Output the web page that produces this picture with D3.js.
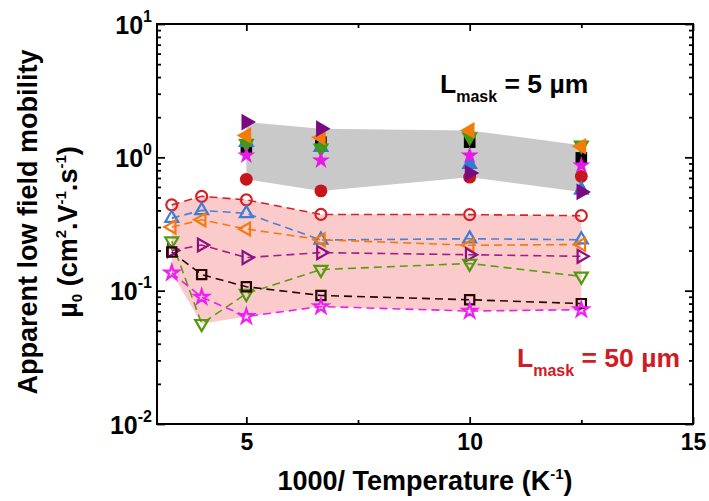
<!DOCTYPE html>
<html>
<head>
<meta charset="utf-8">
<script src="https://cdn.jsdelivr.net/npm/d3@7"></script>
<style>
  body { margin: 0; background: #fff; }
  text { font-family: "Liberation Sans", Arial, sans-serif; font-weight: bold; }
</style>
</head>
<body>
<svg id="chart" width="709" height="501"></svg>
<script>
// 1000/T positions (K^-1)
const invTemp50 = [3.33, 4.0, 5.0, 6.67, 10.0, 12.5];
const invTemp5 = [5.0, 6.67, 10.0, 12.5];

// Apparent low-field mobility, L_mask = 50 µm (cm²/V·s)
const red50     = [0.44, 0.51, 0.48, 0.373, 0.372, 0.365];
const blue50    = [0.35, 0.40, 0.38, 0.240, 0.245, 0.241];
const orange50  = [0.30, 0.34, 0.29, 0.241, 0.219, 0.222];
const green50   = [0.235, 0.0565, 0.095, 0.144, 0.160, 0.128];
const purple50  = [0.20, 0.22, 0.177, 0.193, 0.186, 0.181];
const black50   = [0.195, 0.132, 0.107, 0.092, 0.0855, 0.080];
const magenta50 = [0.136, 0.0895, 0.064, 0.076, 0.0703, 0.072];

// Apparent low-field mobility, L_mask = 5 µm (cm²/V·s)
const black5   = [1.19, 1.30, 1.30, 0.99];
const red5     = [0.684, 0.56, 0.71, 0.72];
const blue5    = [1.30, 1.19, 0.886, 0.57];
const green5   = [1.27, 1.17, 1.42, 1.23];
const orange5  = [1.46, 1.41, 1.59, 1.21];
const purple5  = [1.84, 1.64, 0.762, 0.55];
const magenta5 = [1.035, 0.95, 1.035, 0.87];

// Axis ticks
const xMajorTicks = [5, 10, 15];
const xMinorTicks = [7.5, 12.5];
const yMajorTicks = [0.01, 0.1, 1, 10];

// ---- styling ----
const W = 709, H = 501;
const margin = { left: 157, top: 24, right: 16, bottom: 77 };
const iw = W - margin.left - margin.right;
const ih = H - margin.top - margin.bottom;
const FONT = "Liberation Sans, Arial, sans-serif";

const svg = d3.select("#chart");
const g = svg.append("g").attr("transform", `translate(${margin.left},${margin.top})`);

const x = d3.scaleLinear().domain([3, 15]).range([0, iw]);
const y = d3.scaleLog().domain([0.01, 10]).range([ih, 0]);

// triangle symbol pointing in a given direction (angle of first vertex)
function tri(angle) {
  return {
    draw(ctx, size) {
      const r = Math.sqrt(size / (3 * Math.sqrt(3) / 4));
      for (let i = 0; i < 3; i++) {
        const a = angle + i * 2 * Math.PI / 3;
        const px = r * Math.cos(a), py = r * Math.sin(a);
        if (i === 0) ctx.moveTo(px, py); else ctx.lineTo(px, py);
      }
      ctx.closePath();
    }
  };
}
const shapes = {
  circle: d3.symbolCircle,
  square: d3.symbolSquare,
  star: d3.symbolStar,
  up: tri(-Math.PI / 2),
  down: tri(Math.PI / 2),
  left: tri(Math.PI),
  right: tri(0)
};

const series50 = [
  { values: red50,     shape: "circle", color: "#d42328", line: "#d42328", size: 95 },
  { values: blue50,    shape: "up",     color: "#3a7ed6", line: "#4a82d8", size: 72 },
  { values: orange50,  shape: "left",   color: "#f47a10", line: "#f47a10", size: 72 },
  { values: purple50,  shape: "right",  color: "#8c0f84", line: "#a01e88", size: 72 },
  { values: green50,   shape: "down",   color: "#4f9b0c", line: "#5c9c16", size: 72 },
  { values: black50,   shape: "square", color: "#2a0505", line: "#2a0505", size: 85 },
  { values: magenta50, shape: "star",   color: "#f01ef0", line: "#f01ef0", size: 62 }
];
const series5 = [
  { values: black5,   shape: "square", color: "#000000", size: 135 },
  { values: red5,     shape: "circle", color: "#c8151c", size: 130 },
  { values: blue5,    shape: "up",     color: "#2f7bd6", size: 118 },
  { values: green5,   shape: "down",   color: "#3f9a12", size: 118 },
  { values: orange5,  shape: "left",   color: "#f27b0c", size: 122 },
  { values: purple5,  shape: "right",  color: "#7a0a80", size: 122 },
  { values: magenta5, shape: "star",   color: "#e619e6", size: 100 }
];

// envelope band between the lowest and highest series at each temperature
function band(xs, groups) {
  return xs.map((xv, i) => ({
    x: xv,
    lo: d3.min(groups, s => s.values[i]),
    hi: d3.max(groups, s => s.values[i])
  }));
}
const area = d3.area().x(d => x(d.x)).y0(d => y(d.lo)).y1(d => y(d.hi));

g.append("path").datum(band(invTemp5, series5))
  .attr("d", area).attr("fill", "#c9c9c9");
g.append("path").datum(band(invTemp50, series50))
  .attr("d", area).attr("fill", "#fbcaca");

// dashed connecting lines for the 50 µm devices
const line = d3.line().x(d => x(d[0])).y(d => y(d[1]));
series50.forEach(s => {
  g.append("path")
    .datum(invTemp50.map((xv, i) => [xv, s.values[i]]))
    .attr("d", line)
    .attr("fill", "none")
    .attr("stroke", s.line)
    .attr("stroke-width", 1.6)
    .attr("stroke-dasharray", "8,5");
});

// open markers, 50 µm
series50.forEach(s => {
  g.append("g").selectAll("path")
    .data(invTemp50.map((xv, i) => [xv, s.values[i]]))
    .join("path")
    .attr("transform", d => `translate(${x(d[0])},${y(d[1])})`)
    .attr("d", d3.symbol().type(shapes[s.shape]).size(s.size))
    .attr("fill", "none")
    .attr("stroke", s.color)
    .attr("stroke-width", 2.2);
});

// filled markers, 5 µm
series5.forEach(s => {
  g.append("g").selectAll("path")
    .data(invTemp5.map((xv, i) => [xv, s.values[i]]))
    .join("path")
    .attr("transform", d => `translate(${x(d[0])},${y(d[1])})`)
    .attr("d", d3.symbol().type(shapes[s.shape]).size(s.size))
    .attr("fill", s.color);
});

// ---- axes (ticks inward on all four sides) ----
const yMinor = [];
for (let e = -2; e < 1; e++) for (let m = 2; m <= 9; m++) yMinor.push(m * Math.pow(10, e));

function styleAxis(sel) {
  sel.select(".domain").remove();
  sel.selectAll(".tick line").attr("stroke", "#000").attr("stroke-width", 1.8);
}

// bottom
g.append("g").attr("transform", `translate(0,${ih})`)
  .call(d3.axisBottom(x).tickValues(xMajorTicks).tickSize(-7).tickPadding(10).tickFormat(d3.format("d")))
  .call(styleAxis)
  .call(a => a.selectAll("text").attr("font-size", 23).attr("fill", "#000").attr("font-family", FONT));
g.append("g").attr("transform", `translate(0,${ih})`)
  .call(d3.axisBottom(x).tickValues(xMinorTicks).tickSize(-4).tickFormat(""))
  .call(styleAxis);
// top
g.append("g")
  .call(d3.axisTop(x).tickValues(xMajorTicks).tickSize(-7).tickFormat(""))
  .call(styleAxis);
g.append("g")
  .call(d3.axisTop(x).tickValues(xMinorTicks).tickSize(-4).tickFormat(""))
  .call(styleAxis);
// left
const yLeft = g.append("g")
  .call(d3.axisLeft(y).tickValues(yMajorTicks).tickSize(-8).tickPadding(5).tickFormat(""))
  .call(styleAxis);
yLeft.selectAll(".tick text").each(function (d) {
  const t = d3.select(this)
    .attr("font-size", 25).attr("fill", "#000")
    .attr("font-family", FONT)
    .attr("dy", "0.36em");
  t.append("tspan").text("10");
  t.append("tspan").attr("font-size", 16).attr("dy", "-0.75em").text(Math.round(Math.log10(d)));
});
g.append("g")
  .call(d3.axisLeft(y).tickValues(yMinor).tickSize(-4).tickFormat(""))
  .call(styleAxis);
// right
g.append("g").attr("transform", `translate(${iw},0)`)
  .call(d3.axisRight(y).tickValues(yMajorTicks).tickSize(-8).tickFormat(""))
  .call(styleAxis);
g.append("g").attr("transform", `translate(${iw},0)`)
  .call(d3.axisRight(y).tickValues(yMinor).tickSize(-4).tickFormat(""))
  .call(styleAxis);

// frame
g.append("rect").attr("width", iw).attr("height", ih)
  .attr("fill", "none").attr("stroke", "#000").attr("stroke-width", 2);

// ---- titles ----
const xt = svg.append("text")
  .attr("x", margin.left + iw / 2).attr("y", 490)
  .attr("text-anchor", "middle").attr("font-size", 27).attr("fill", "#000");
xt.append("tspan").text("1000/ Temperature (K");
xt.append("tspan").attr("font-size", 15).attr("dy", -11).text("-1");
xt.append("tspan").attr("dy", 11).text(")");

const yTitle = svg.append("g").attr("transform", `translate(0,${margin.top + ih / 2}) rotate(-90)`);
yTitle.append("text").attr("x", 2).attr("y", 37)
  .attr("text-anchor", "middle").attr("font-size", 27).attr("fill", "#000")
  .text("Apparent low field mobility");
const yl2 = yTitle.append("text").attr("x", -8).attr("y", 77)
  .attr("text-anchor", "middle").attr("font-size", 27).attr("fill", "#000");
yl2.append("tspan").text("µ");
yl2.append("tspan").attr("font-size", 15).attr("dy", 5).text("0");
yl2.append("tspan").attr("dy", -5).text(" (cm");
yl2.append("tspan").attr("font-size", 15).attr("dy", -11).text("2");
yl2.append("tspan").attr("dy", 11).text(".V");
yl2.append("tspan").attr("font-size", 15).attr("dy", -11).text("-1");
yl2.append("tspan").attr("dy", 11).text(".s");
yl2.append("tspan").attr("font-size", 15).attr("dy", -11).text("-1");
yl2.append("tspan").attr("dy", 11).text(")");

// ---- group annotations ----
function maskLabel(px, py, value, color) {
  const t = svg.append("text").attr("x", px).attr("y", py)
    .attr("font-size", 26.5).attr("fill", color);
  t.append("tspan").text("L");
  t.append("tspan").attr("font-size", 16).attr("dy", 9).text("mask");
  t.append("tspan").attr("dy", -9).text(` = ${value} µm`);
}
maskLabel(440, 93, 5, "#000000");
maskLabel(517, 367, 50, "#d01c24");
</script>
</body>
</html>
